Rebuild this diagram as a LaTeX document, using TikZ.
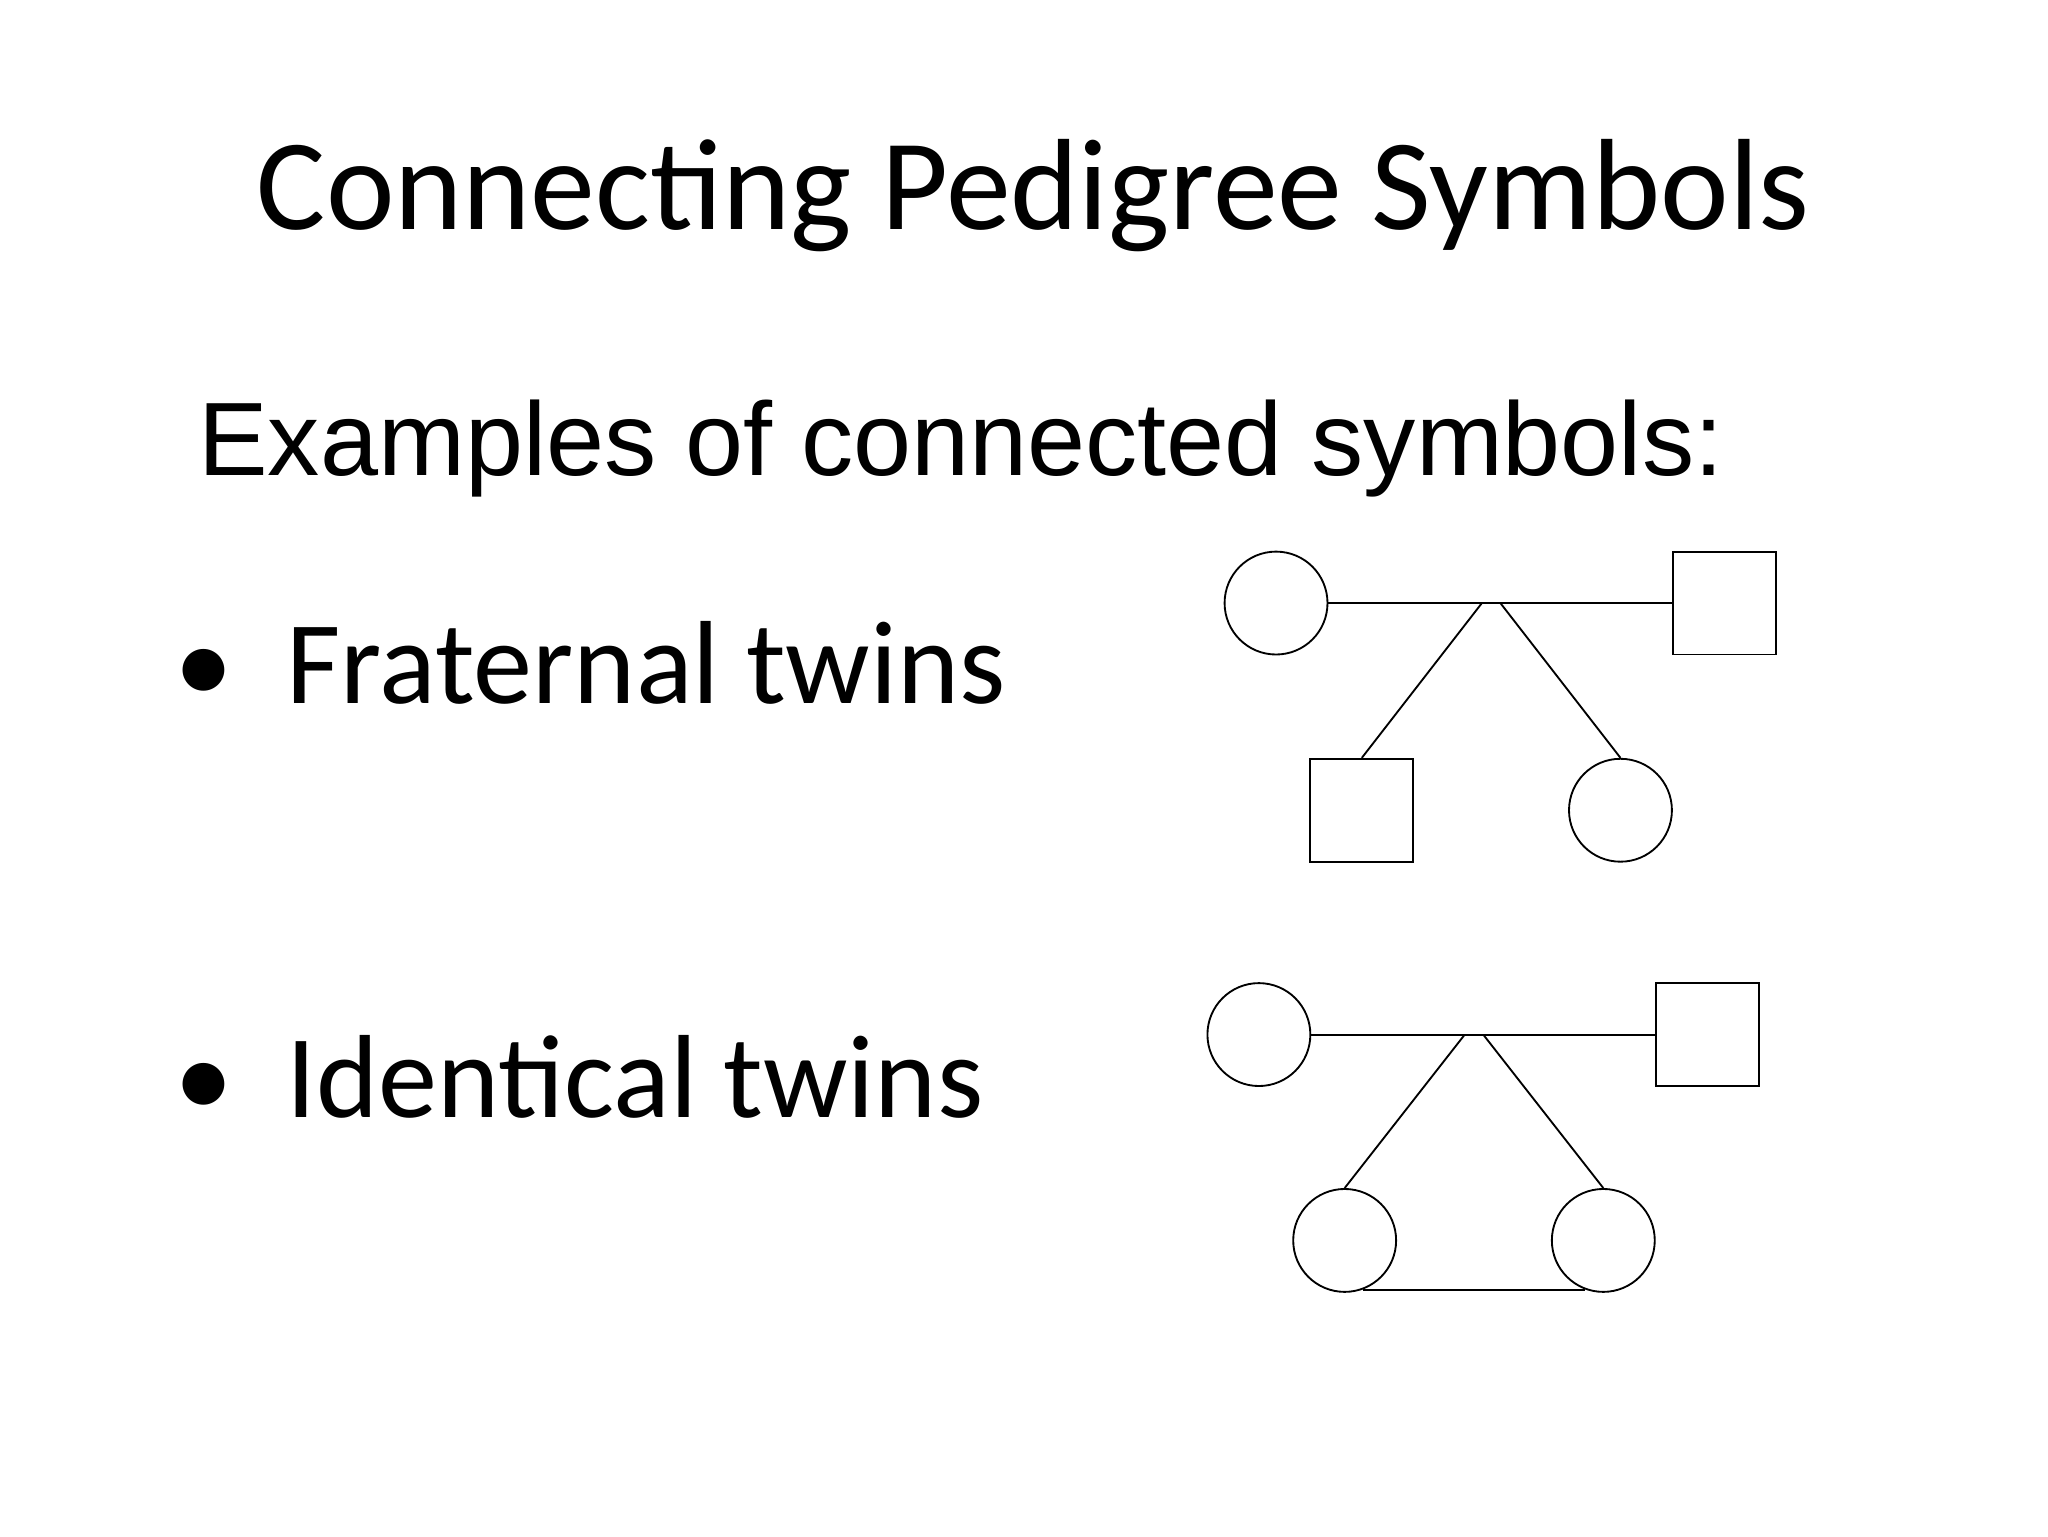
\documentclass[tikz,border=0pt]{standalone}
\usepackage{fontspec}
\setmainfont{Carlito}
\newfontfamily\arialf{Liberation Sans}
\begin{document}
\begin{tikzpicture}[x=0.02cm,y=-0.02cm,
  fem/.style={draw,circle,minimum size=1.56cm,inner sep=0pt,line width=0.8pt},
  mal/.style={draw,rectangle,minimum size=1.56cm,inner sep=0pt,line width=0.8pt},
  ln/.style={line width=0.8pt}]
\useasboundingbox (0,0) rectangle (1552,1164);
\node (title) at (783,148) {\fontsize{56}{60}\selectfont Connecting Pedigree Symbols};
\node[anchor=base west,inner sep=0pt] (ex) at (150,360) {\arialf\fontsize{45}{50}\selectfont Examples of connected symbols:};
\node[anchor=base west,inner sep=0pt] (b1) at (132,533) {\fontsize{51}{56}\selectfont •\hspace{0.45em}Fraternal twins};
\node[anchor=base west,inner sep=0pt] (b2) at (132,847) {\fontsize{51}{56}\selectfont •\hspace{0.45em}Identical twins};
% fraternal
\node[fem] (f1) at (967,457) {};
\node[mal] (m1) at (1307,457) {};
\node[mal] (m2) at (1032,614) {};
\node[fem] (f2) at (1228,614) {};
\coordinate (p1) at (1123,457);
\coordinate (p2) at (1137,457);
\draw[ln] (f1.east) -- (m1.west);
\draw[ln] (p1) -- (m2.north);
\draw[ln] (p2) -- (f2.north);
% identical
\node[fem] (f3) at (954,784) {};
\node[mal] (m3) at (1294,784) {};
\node[fem] (f4) at (1019,940) {};
\node[fem] (f5) at (1215,940) {};
\coordinate (q1) at (1110,784);
\coordinate (q2) at (1124,784);
\draw[ln] (f3.east) -- (m3.west);
\draw[ln] (q1) -- (f4.north);
\draw[ln] (q2) -- (f5.north);
\draw[ln] (f4.-70) -- (f5.-110);
\end{tikzpicture}
\end{document}
